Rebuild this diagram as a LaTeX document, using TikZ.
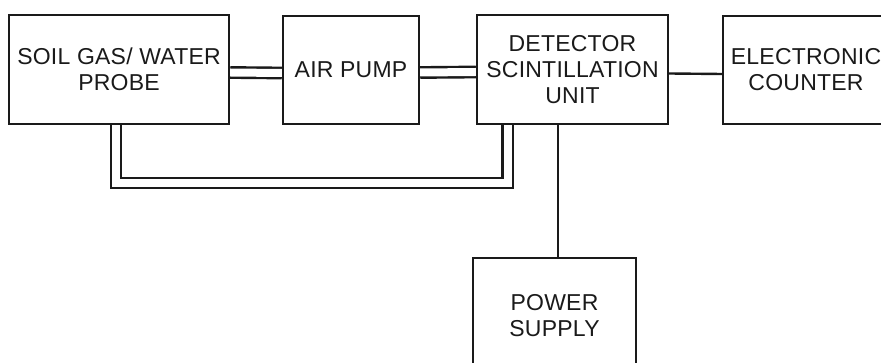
\documentclass[tikz,border=0pt]{standalone}
\usepackage{fontspec}
\newfontfamily\blkfont[LetterSpace=1]{Liberation Sans}
\usepackage{tikz}
\usetikzlibrary{positioning, calc}
\definecolor{inkgray}{HTML}{1A1A1A}
\tikzset{
  blk/.style  = {rectangle, draw=inkgray, line width=2.4pt, align=center,
                 text=inkgray, font=\blkfont\fontsize{23}{26}\selectfont,
                 inner sep=0pt},
  tube/.style = {draw=inkgray, line width=2.4pt, double=white,
                 double distance=8pt},
  wire/.style = {draw=inkgray, line width=2.4pt},
}

\begin{document}
\begin{tikzpicture}[x=1pt, y=-1pt]
  \useasboundingbox (0,0) rectangle (881,363);
  \node[blk, minimum width=220pt, minimum height=109pt] (probe) at (119,69.5)
    {SOIL GAS/ WATER\\PROBE};
  \node[blk, minimum width=136pt, minimum height=108pt] (pump) at (351,70)
    {AIR PUMP};
  \node[blk, minimum width=191pt, minimum height=109pt] (det) at (572.5,69.5)
    {DETECTOR\\SCINTILLATION\\UNIT};
  \node[blk, minimum width=166pt, minimum height=108pt] (cnt) at (806,70)
    {ELECTRONIC\\COUNTER};
  \node[blk, minimum width=163pt, minimum height=116pt] (pwr) at (554.5,316)
    {POWER\\SUPPLY};
  \coordinate (loop) at (300,183);

  \draw[tube] ([yshift=-3pt]probe.east) -- ([yshift=-3pt]pump.west);
  \draw[tube] ([yshift=-2.5pt]pump.east) -- ([yshift=-2.5pt]det.west);
  \draw[tube] ([xshift=-3pt]probe.south) |- (loop) -| ([xshift=-65pt]det.south);
  \draw[wire] ([yshift=-4pt]det.east) -- ([yshift=-4pt]cnt.west);
  \draw[wire] ([xshift=-14.5pt]det.south) -- ([xshift=-14.5pt]det.south |- pwr.north);
\end{tikzpicture}
\end{document}
